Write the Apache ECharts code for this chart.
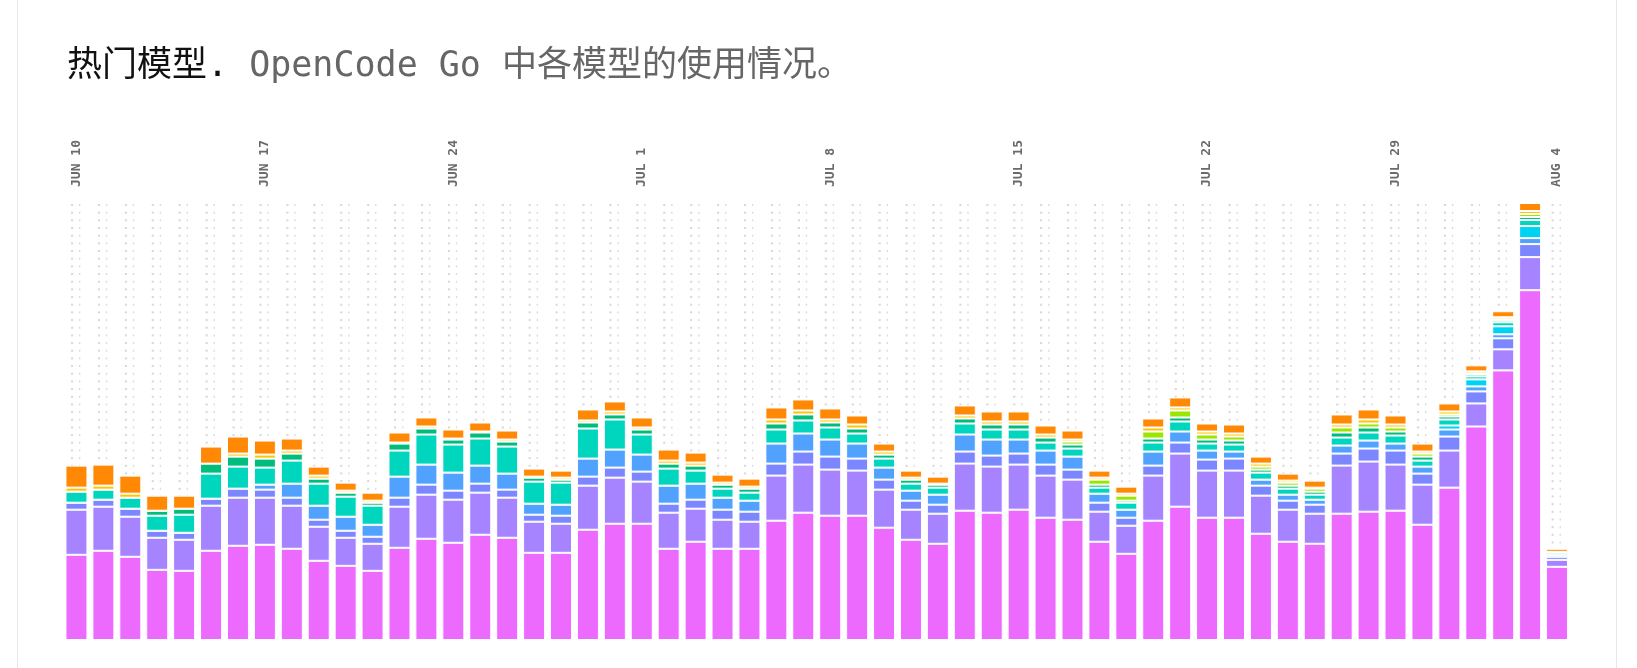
<!DOCTYPE html>
<html>
<head>
<meta charset="utf-8">
<script src="https://cdn.jsdelivr.net/npm/echarts@6/dist/echarts.min.js"></script>
<style>
  html, body { margin: 0; padding: 0; background: #fff; }
  #frame { position: absolute; left: 17px; top: 0; width: 1598px; height: 668px;
           border-left: 1px solid #e6e6e6; border-right: 1px solid #e6e6e6; }
  #chart1 { position: absolute; left: 0; top: 0; width: 1637px; height: 668px; }
</style>
</head>
<body>
<div id="frame"></div>
<div id="chart1"></div>
<script>
const days = [
  'JUN 10', 'JUN 11', 'JUN 12', 'JUN 13', 'JUN 14', 'JUN 15', 'JUN 16',
  'JUN 17', 'JUN 18', 'JUN 19', 'JUN 20', 'JUN 21', 'JUN 22', 'JUN 23',
  'JUN 24', 'JUN 25', 'JUN 26', 'JUN 27', 'JUN 28', 'JUN 29', 'JUN 30',
  'JUL 1', 'JUL 2', 'JUL 3', 'JUL 4', 'JUL 5', 'JUL 6', 'JUL 7',
  'JUL 8', 'JUL 9', 'JUL 10', 'JUL 11', 'JUL 12', 'JUL 13', 'JUL 14',
  'JUL 15', 'JUL 16', 'JUL 17', 'JUL 18', 'JUL 19', 'JUL 20', 'JUL 21',
  'JUL 22', 'JUL 23', 'JUL 24', 'JUL 25', 'JUL 26', 'JUL 27', 'JUL 28',
  'JUL 29', 'JUL 30', 'JUL 31', 'AUG 1', 'AUG 2', 'AUG 3', 'AUG 4'
];

// daily usage per model, bottom of the stack first
const fuchsia = [85, 89, 83, 70, 69, 89, 94, 95, 91, 79, 74, 69, 92, 101, 97, 105, 102, 87, 87, 110,
  116, 116, 91, 98, 91, 91, 119, 127, 124, 124, 112, 100, 96, 129, 127, 130, 122, 120, 98, 86,
  119, 133, 122, 122, 106, 98, 96, 126, 128, 129, 115, 152, 213, 269, 349, 73];
const violet = [45, 44, 40, 32, 31, 45, 48, 47, 43, 34, 28, 27, 41, 44, 43, 42, 40, 31, 29, 44,
  46, 42, 36, 33, 29, 27, 45, 48, 46, 45, 38, 30, 30, 47, 46, 45, 42, 40, 30, 28,
  45, 53, 47, 47, 38, 32, 30, 48, 50, 46, 40, 37, 23, 21, 33, 7];
const indigo = [7, 7, 8, 7, 7, 7, 9, 8, 8, 7, 7, 7, 9, 10, 9, 9, 8, 7, 8, 9,
  10, 10, 9, 9, 10, 10, 12, 13, 13, 12, 10, 9, 9, 12, 11, 11, 11, 10, 9, 8,
  10, 11, 11, 12, 10, 9, 9, 12, 13, 14, 11, 14, 12, 11, 13, 3];
const blue = [0, 0, 0, 0, 0, 0, 0, 5, 14, 14, 14, 12, 21, 20, 18, 18, 16, 11, 11, 18,
  18, 17, 18, 16, 12, 11, 20, 18, 17, 15, 12, 10, 10, 17, 16, 14, 14, 13, 9, 8,
  14, 11, 9, 7, 6, 6, 5, 8, 8, 7, 7, 7, 5, 4, 6, 2];
const cyan = [0, 0, 0, 0, 0, 0, 0, 0, 0, 0, 0, 0, 0, 0, 0, 0, 0, 0, 0, 0,
  0, 0, 0, 0, 0, 0, 0, 0, 0, 0, 0, 0, 0, 0, 0, 0, 0, 0, 0, 0,
  0, 0, 0, 0, 0, 0, 0, 0, 0, 0, 0, 4, 7, 8, 12, 0];
const teal = [11, 10, 11, 15, 18, 25, 22, 17, 23, 22, 20, 19, 26, 30, 28, 27, 27, 22, 22, 30,
  30, 20, 17, 13, 9, 8, 14, 13, 12, 10, 9, 7, 7, 11, 10, 10, 8, 8, 6, 7,
  9, 10, 7, 7, 7, 6, 5, 8, 8, 8, 6, 6, 3, 4, 6, 2];
const emerald = [0, 0, 0, 5, 6, 10, 10, 9, 7, 5, 4, 3, 7, 6, 5, 6, 5, 4, 3, 6,
  5, 5, 5, 5, 4, 4, 6, 6, 5, 5, 4, 4, 3, 5, 5, 5, 5, 4, 3, 2,
  4, 4, 4, 4, 3, 3, 3, 5, 5, 4, 4, 3, 2, 2, 3, 1];
const lime = [0, 0, 0, 0, 0, 0, 0, 0, 0, 0, 0, 0, 0, 0, 0, 0, 0, 0, 0, 0,
  0, 0, 0, 0, 0, 0, 0, 0, 0, 0, 0, 0, 0, 0, 0, 0, 0, 3, 5, 5,
  7, 7, 5, 4, 3, 3, 3, 5, 4, 4, 3, 2, 1, 1, 3, 0];
const yellow = [4, 4, 4, 0, 0, 0, 3, 4, 3, 3, 2, 2, 1, 2, 1, 1, 2, 1, 2, 2,
  3, 2, 3, 3, 2, 2, 4, 4, 3, 4, 3, 2, 1, 3, 3, 3, 3, 2, 2, 2,
  4, 3, 3, 3, 3, 2, 1, 3, 4, 3, 2, 3, 2, 2, 3, 0];
const orange = [22, 21, 18, 15, 13, 17, 17, 14, 12, 9, 8, 8, 10, 9, 9, 9, 9, 8, 7, 11,
  10, 10, 11, 10, 8, 8, 12, 11, 11, 9, 8, 7, 7, 10, 10, 10, 9, 9, 7, 7,
  9, 10, 8, 9, 7, 7, 7, 10, 10, 9, 8, 8, 6, 6, 8, 3];

const models = [
  { name: 'fuchsia', data: fuchsia, color: '#ed6aff' },
  { name: 'violet', data: violet, color: '#a684ff' },
  { name: 'indigo', data: indigo, color: '#7c86ff' },
  { name: 'blue', data: blue, color: '#51a2ff' },
  { name: 'cyan', data: cyan, color: '#00d3f2' },
  { name: 'teal', data: teal, color: '#00d5be' },
  { name: 'emerald', data: emerald, color: '#00bc7d' },
  { name: 'lime', data: lime, color: '#9ae600' },
  { name: 'yellow', data: yellow, color: '#fdc700' },
  { name: 'orange', data: orange, color: '#ff8904' }
];

const getOption = () => {
  const totals = days.map((d, i) => models.reduce((s, m) => s + m.data[i], 0));
  const yMax = Math.max(...totals);

  // dotted columns behind every bar
  const dots = {
    type: 'custom',
    z: 1,
    silent: true,
    data: days.map((d, i) => [i]),
    encode: { x: 0 },
    renderItem: (params, api) => {
      const idx = api.value(0);
      const base = api.coord([idx, 0]);
      const top = api.coord([idx, yMax])[1] + 1;
      const cx = base[0];
      const children = [];
      for (let y = top; y < base[1] - 2; y += 7.67) {
        children.push({ type: 'rect', shape: { x: cx - 5.5, y: y, width: 2.2, height: 2 }, style: { fill: '#d9d9d9' } });
        children.push({ type: 'rect', shape: { x: cx + 2.5, y: y, width: 1.4, height: 2 }, style: { fill: '#dcdcdc' } });
      }
      return { type: 'group', children: children };
    }
  };

  const bars = models.map(m => ({
    name: m.name,
    type: 'bar',
    stack: 'usage',
    z: 2,
    barWidth: 22,
    data: m.data,
    itemStyle: { color: m.color, borderColor: '#fff', borderWidth: 1 }
  }));

  const mono = "'DejaVu Sans Mono', 'Noto Sans CJK SC', monospace";

  return {
    animation: false,
    title: {
      left: 62,
      top: 41,
      text: '{a|热门模型.}{b| OpenCode Go 中各模型的使用情况。}',
      textStyle: {
        fontWeight: 'normal',
        rich: {
          a: { fontFamily: mono, fontSize: 35, fontWeight: 'normal', color: '#111', lineHeight: 42 },
          b: { fontFamily: mono, fontSize: 35, fontWeight: 'normal', color: '#666', lineHeight: 42 }
        }
      }
    },
    grid: { left: 63, right: 66.5, top: 203, bottom: 28 },
    xAxis: {
      type: 'category',
      position: 'top',
      data: days,
      axisLine: { show: false },
      axisTick: { show: false },
      axisLabel: {
        rotate: 90,
        margin: 16,
        interval: (i) => i % 7 === 0 || i === days.length - 1,
        fontFamily: "'DejaVu Sans Mono', monospace",
        fontSize: 13,
        fontWeight: 'bold',
        color: '#6b6b6b'
      }
    },
    yAxis: {
      type: 'value',
      min: 0,
      max: yMax,
      show: false,
      splitLine: { show: false }
    },
    series: [dots].concat(bars)
  };
};

const initChart = () => {
  const chart1 = echarts.init(document.getElementById('chart1'));
  chart1.setOption(getOption());
};

window.addEventListener('load', function() {
  initChart();
});
</script>
</body>
</html>
